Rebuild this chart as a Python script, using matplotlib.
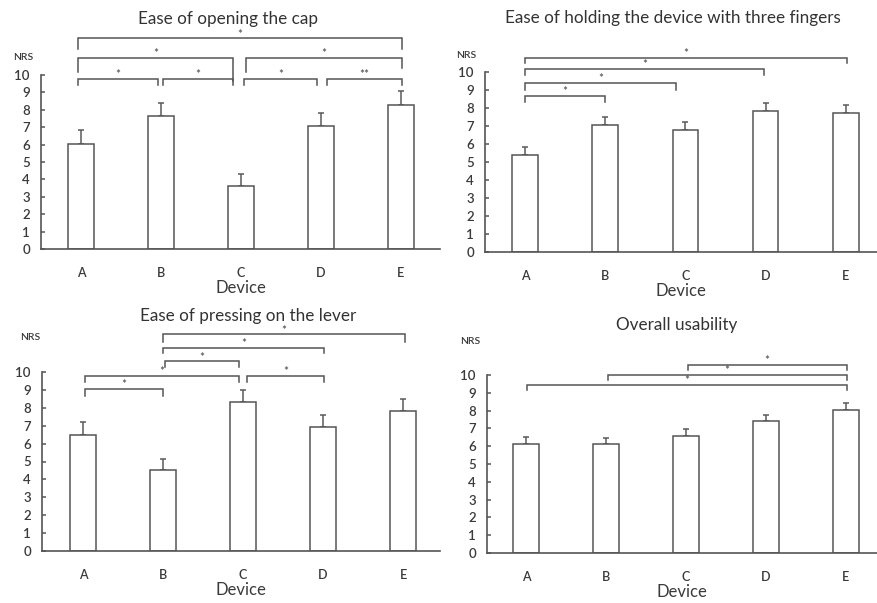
import matplotlib
matplotlib.use("Agg")
import matplotlib.pyplot as plt

plt.rcParams['font.family'] = ['Lato', 'DejaVu Sans']

DEVICES = ["A", "B", "C", "D", "E"]

# mean NRS and upper error (SD) per device
CAP_MEAN = [6.05, 7.65, 3.6, 7.05, 8.25]
CAP_ERR = [0.8, 0.75, 0.7, 0.75, 0.85]

HOLD_MEAN = [5.4, 7.05, 6.8, 7.85, 7.7]
HOLD_ERR = [0.42, 0.45, 0.42, 0.45, 0.48]

LEVER_MEAN = [6.5, 4.5, 8.35, 6.95, 7.8]
LEVER_ERR = [0.68, 0.62, 0.65, 0.65, 0.68]

OVERALL_MEAN = [6.15, 6.1, 6.6, 7.4, 8.05]
OVERALL_ERR = [0.35, 0.38, 0.38, 0.35, 0.35]

# significance brackets: (left x, right x, line level, left leg end, right leg end, label)
CAP_SIG = [
    (-0.04, 0.96, 9.77, 9.43, 9.43, "*"),
    (1.03, 1.9, 9.77, 9.43, 9.43, "*"),
    (2.04, 2.95, 9.77, 9.43, 9.43, "*"),
    (3.08, 4.01, 9.77, 9.43, 9.43, "**"),
    (-0.04, 1.9, 11.0, 10.2, 9.66, "*"),
    (2.06, 4.01, 11.0, 10.2, 10.4, "*"),
    (-0.04, 4.01, 12.1, 11.5, 11.5, "*"),
]
HOLD_SIG = [
    (0.0, 1.0, 8.67, 8.35, 8.35, "*"),
    (0.0, 1.88, 9.4, 9.0, 9.0, "*"),
    (0.0, 2.98, 10.17, 9.85, 9.85, "*"),
    (0.0, 4.02, 10.8, 10.5, 10.5, "*"),
]
LEVER_SIG = [
    (0.03, 1.0, 9.05, 8.66, 8.66, "*"),
    (0.03, 1.95, 9.78, 9.45, 9.45, "*"),
    (2.05, 3.01, 9.78, 9.45, 9.45, "*"),
    (1.02, 1.95, 10.6, 10.3, 10.3, "*"),
    (1.0, 3.01, 11.35, 11.05, 11.05, "*"),
    (1.0, 4.02, 12.1, 11.7, 11.7, "*"),
]
OVERALL_SIG = [
    (0.01, 4.01, 9.44, 9.16, 9.16, "*"),
    (1.02, 4.01, 10.0, 9.72, 9.72, "*"),
    (2.02, 4.01, 10.56, 10.28, 10.28, "*"),
]

TITLES = ["Ease of opening the cap",
          "Ease of holding the device with three fingers",
          "Ease of pressing on the lever",
          "Overall usability"]

W, H = 877, 603
EDGE = "#555555"
TXT = "#3a3a3a"

# panel layout in pixels: axis x, right end, y of 0, y of 10, xlim, title pos, NRS pos
PANELS = [
    dict(left=41, right=440, y0=249, y10=75, xlim=(-0.5, 4.49), title=(228, 19), nrs=(23, 57)),
    dict(left=485, right=877, y0=252, y10=72, xlim=(-0.5, 4.39), title=(673, 18), nrs=(466, 56)),
    dict(left=42, right=440, y0=551, y10=372, xlim=(-0.51, 4.46), title=(248, 316), nrs=(30, 337)),
    dict(left=487, right=877, y0=553, y10=375, xlim=(-0.49, 4.39), title=(677, 325), nrs=(470, 342)),
]

DATA = [(CAP_MEAN, CAP_ERR, CAP_SIG),
        (HOLD_MEAN, HOLD_ERR, HOLD_SIG),
        (LEVER_MEAN, LEVER_ERR, LEVER_SIG),
        (OVERALL_MEAN, OVERALL_ERR, OVERALL_SIG)]


def draw_panel(fig, p, mean, err, sig, title):
    ax = fig.add_axes([p["left"] / W, 1 - p["y0"] / H,
                       (p["right"] - p["left"]) / W, (p["y0"] - p["y10"]) / H])
    x = list(range(len(DEVICES)))
    ax.bar(x, mean, width=0.32, color="white", edgecolor=EDGE, linewidth=1.1, zorder=2)
    ax.errorbar(x, mean, yerr=[[0] * len(err), err], fmt="none", ecolor="#5a5a5a",
                elinewidth=1.1, capsize=2.3, capthick=1.1, zorder=1)

    for x0, x1, lev, bl, br, lab in sig:
        ax.plot([x0, x0, x1, x1], [bl, lev, lev, br], color="#555555", lw=1.1,
                clip_on=False, solid_joinstyle="miter")
        ax.text((x0 + x1) / 2, lev - 0.08, lab, ha="center", va="bottom",
                fontsize=8.5, color="#444444", clip_on=False)

    ax.set_xlim(*p["xlim"])
    ax.set_ylim(0, 10)
    ax.set_xticks(x)
    ax.set_xticklabels(DEVICES)
    ax.set_yticks(range(0, 11))
    for s in ["top", "right"]:
        ax.spines[s].set_visible(False)
    for s in ["left", "bottom"]:
        ax.spines[s].set_color("#555555")
        ax.spines[s].set_linewidth(1.2)
    ax.tick_params(axis="y", direction="in", length=3, width=1.1, color="#555555",
                   labelsize=9.5, labelcolor=TXT, pad=8)
    ax.tick_params(axis="x", length=0, labelsize=9, labelcolor=TXT, pad=13)
    for lbl in ax.get_xticklabels() + ax.get_yticklabels():
        lbl.set_fontweight("semibold")
    ax.set_xlabel("Device", fontsize=12, color=TXT, labelpad=1)

    fig.text(p["title"][0] / W, 1 - p["title"][1] / H, title, ha="center", va="center",
             fontsize=12.3, color="#333333")
    fig.text(p["nrs"][0] / W, 1 - p["nrs"][1] / H, "NRS", ha="center", va="center",
             fontsize=7.5, color=TXT, fontweight="semibold")
    return ax


fig = plt.figure(figsize=(W / 100, H / 100), dpi=100)
for p, (mean, err, sig), title in zip(PANELS, DATA, TITLES):
    draw_panel(fig, p, mean, err, sig, title)

fig.savefig("out.png", dpi=100)
